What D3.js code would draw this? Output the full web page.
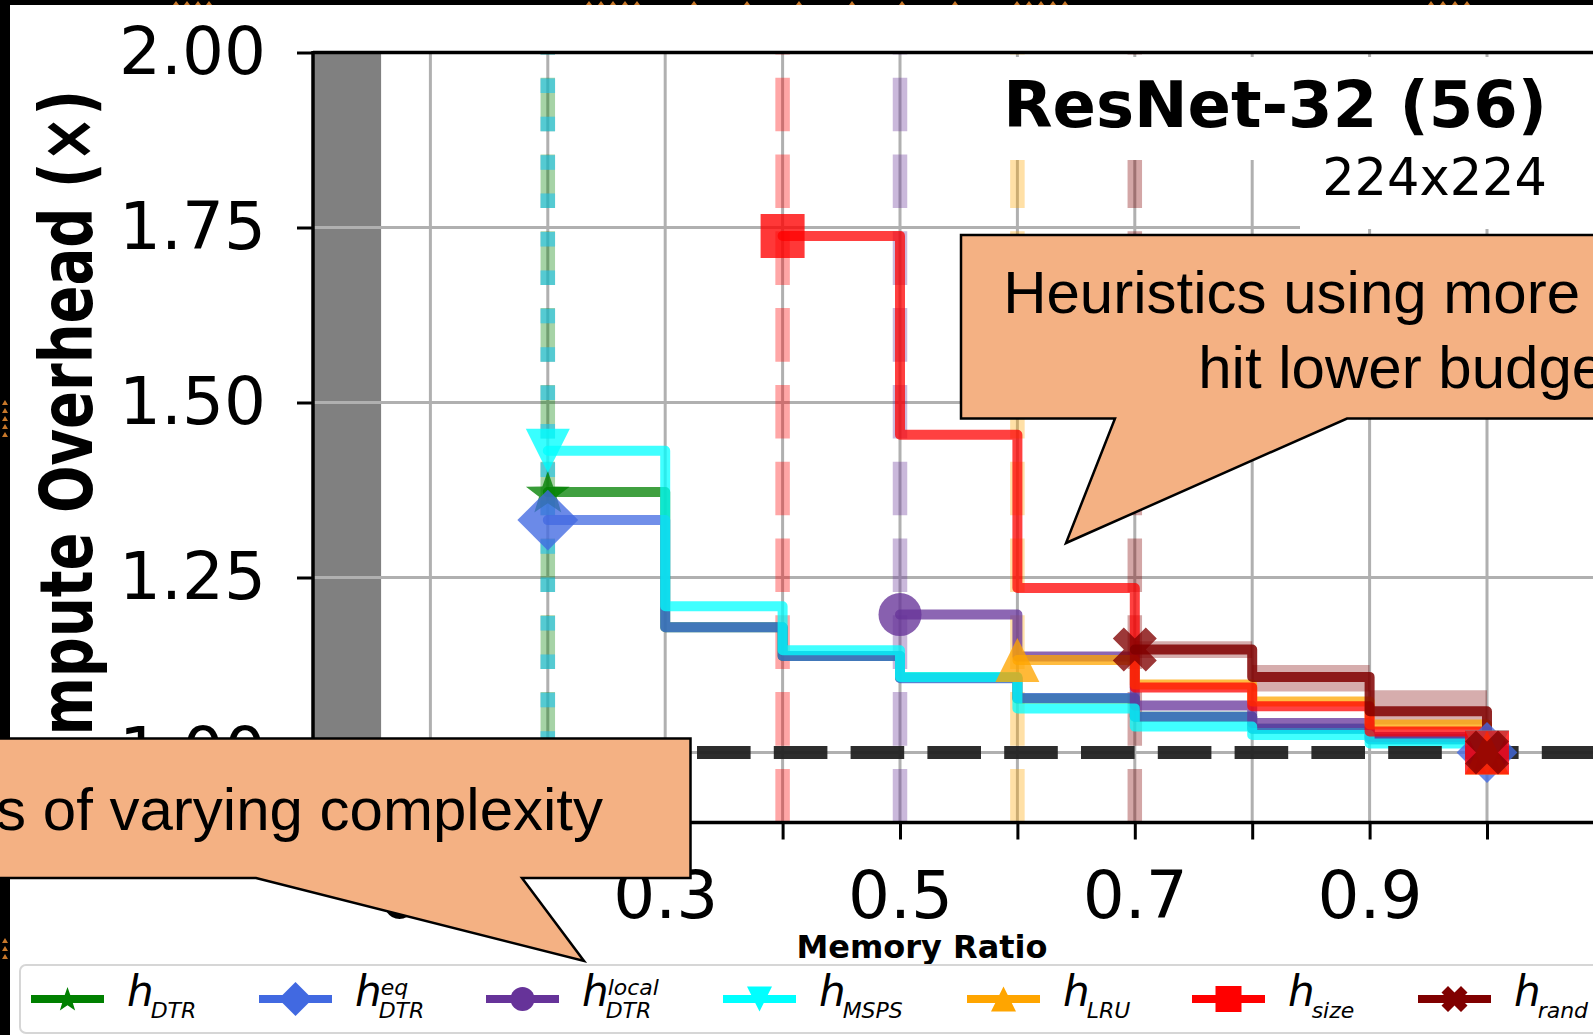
<!DOCTYPE html>
<html>
<head>
<meta charset="utf-8">
<script src="https://cdn.jsdelivr.net/npm/d3@7"></script>
<style>
  html, body { margin: 0; padding: 0; background: #fff; overflow: hidden; }
  svg { display: block; }
</style>
</head>
<body>
<svg id="chart" width="1593" height="1035"></svg>
<script>
// ---- data -------------------------------------------------------------
// memory budgets (fraction of peak memory) at which each heuristic was run
const budgets = [0.2, 0.3, 0.4, 0.5, 0.6, 0.7, 0.8, 0.9, 1.0];

// compute overhead per heuristic, from its lowest feasible budget up to 1.0
const hDTR      = [1.372, 1.179, 1.138, 1.107, 1.077, 1.051, 1.034, 1.019, 1.000];
const hDTReq    = [1.332, 1.179, 1.138, 1.106, 1.078, 1.051, 1.034, 1.019, 1.000];
const hDTRlocal = [1.197, 1.137, 1.067, 1.042, 1.022, 1.000];
const hMSPS     = [1.431, 1.209, 1.146, 1.108, 1.063, 1.037, 1.025, 1.013, 1.000];
const hLRU      = [1.132, 1.097, 1.073, 1.040, 1.000];
const hSize     = [1.738, 1.454, 1.235, 1.093, 1.066, 1.030, 1.000];
const hRand     = [1.147, 1.108, 1.059, 1.000];
const hRandLow  = [1.135, 1.087, 1.040, 1.000];
const hRandHigh = [1.159, 1.125, 1.089, 1.000];

const seriesNames = ["DTR", "DTR", "DTR", "MSPS", "LRU", "size", "rand"];
const seriesSups  = ["", "eq", "local", "", "", "", ""];

const xTickValues = [0.1, 0.2, 0.3, 0.4, 0.5, 0.6, 0.7, 0.8, 0.9, 1.0];
const xTickLabels = ["0.1", "", "0.3", "", "0.5", "", "0.7", "", "0.9", ""];
const yTickValues = [1.00, 1.25, 1.50, 1.75, 2.00];
const infeasibleBudget = 0.058;

// ---- styling ----------------------------------------------------------
const colors  = ["#008000", "#4169e1", "#663399", "#00ffff", "#ffa500", "#ff0000", "#800000"];
const markers = ["star", "diamond", "circle", "triDown", "triUp", "square", "x"];
const vStyles = ["dashed", "dotted", "dashed", "dotted", "dashed", "dashed", "dashed"];
const peach = "#F4B183";

const svg = d3.select("#chart");
const W = 1593, H = 1035;

const x = d3.scaleLinear().domain([0, 1.1]).range([313, 313 + 1.1 * 1174]);
const y = d3.scaleLinear().domain([0.9, 2.0]).range([822.5, 52.5]);

svg.append("rect").attr("width", W).attr("height", H).attr("fill", "#fff");

// marker shapes centred on the origin; s = half extent
function markerPath(kind, s) {
  if (kind === "square") return `M${-s},${-s}H${s}V${s}H${-s}Z`;
  if (kind === "diamond") { const d = s * Math.SQRT2; return `M0,${-d}L${d},0L0,${d}L${-d},0Z`; }
  if (kind === "circle") return `M${-s},0A${s},${s} 0 1,0 ${s},0A${s},${s} 0 1,0 ${-s},0Z`;
  if (kind === "triUp") return `M0,${-s}L${s},${s}L${-s},${s}Z`;
  if (kind === "triDown") return `M0,${s}L${s},${-s}L${-s},${-s}Z`;
  if (kind === "x") {
    const k = s / 2;
    const pts = [[-1,-2],[0,-1],[1,-2],[2,-1],[1,0],[2,1],[1,2],[0,1],[-1,2],[-2,1],[-1,0],[-2,-1]];
    return "M" + pts.map(p => `${p[0]*k},${p[1]*k}`).join("L") + "Z";
  }
  if (kind === "star") {
    const pts = [];
    for (let i = 0; i < 10; i++) {
      const r = i % 2 === 0 ? s : s * 0.4;
      const a = -Math.PI / 2 + i * Math.PI / 5;
      pts.push([r * Math.cos(a), r * Math.sin(a) + s * 0.08]);
    }
    return "M" + pts.map(p => `${p[0].toFixed(2)},${p[1].toFixed(2)}`).join("L") + "Z";
  }
}

const valueSets = [hDTR, hDTReq, hDTRlocal, hMSPS, hLRU, hSize, hRand];
const series = valueSets.map((vals, i) => ({
  color: colors[i],
  marker: markers[i],
  vstyle: vStyles[i],
  points: budgets.slice(budgets.length - vals.length).map((b, j) => [b, vals[j]])
}));

// ---- background band and grid ----------------------------------------
svg.append("rect")
  .attr("x", x(0)).attr("y", y(2.0))
  .attr("width", x(infeasibleBudget) - x(0)).attr("height", y(0.9) - y(2.0))
  .attr("fill", "#808080");

const grid = svg.append("g").attr("stroke", "#b0b0b0").attr("stroke-width", 3);
xTickValues.forEach(v => grid.append("line")
  .attr("x1", x(v)).attr("x2", x(v)).attr("y1", y(0.9)).attr("y2", y(2.0)));
yTickValues.filter(v => v < 2).forEach(v => grid.append("line")
  .attr("x1", x(0)).attr("x2", W + 20).attr("y1", y(v)).attr("y2", y(v)));

// ---- vertical markers at each heuristic's lowest feasible budget ------
const vl = svg.append("g");
series.forEach(s => {
  const bx = x(s.points[0][0]);
  vl.append("path")
    .attr("d", `M${bx},${y(0.9)}V${y(2.0)}`)
    .attr("stroke", s.color).attr("stroke-opacity", 0.35)
    .attr("stroke-width", 14.5)
    .attr("stroke-dasharray", s.vstyle === "dashed" ? "53.6 23.2" : "14.5 23.9")
    .attr("fill", "none");
});

// ---- rand spread band --------------------------------------------------
const randX = budgets.slice(budgets.length - hRand.length);
const band = d3.area()
  .x((d, i) => x(randX[i]))
  .y0((d, i) => y(hRandLow[i]))
  .y1((d, i) => y(hRandHigh[i]))
  .curve(d3.curveStepAfter);
svg.append("path").attr("d", band(hRand)).attr("fill", "#800000").attr("fill-opacity", 0.32);

// ---- step lines ------------------------------------------------------
const stepLine = d3.line().x(d => x(d[0])).y(d => y(d[1])).curve(d3.curveStepAfter);
series.forEach((s, i) => {
  svg.append("path")
    .attr("d", stepLine(s.points))
    .attr("fill", "none")
    .attr("stroke", s.color)
    .attr("stroke-opacity", i === 6 ? 0.85 : 0.75)
    .attr("stroke-width", 10)
    .attr("stroke-linejoin", "round")
    .attr("stroke-linecap", "round");
});

// ---- baseline (no overhead) -----------------------------------------
svg.append("path")
  .attr("d", `M${x(0)},${y(1)}H${W + 20}`)
  .attr("stroke", "#222").attr("stroke-opacity", 0.95)
  .attr("stroke-width", 13).attr("stroke-dasharray", "53.6 23.2").attr("fill", "none");

// ---- markers at first and last budget ---------------------------------
const markerSize = { star: 23, diamond: 21.5, circle: 21.5, triDown: 22, triUp: 22, square: 22, x: 22 };
series.forEach(s => {
  [s.points[0], s.points[s.points.length - 1]].forEach(p => {
    svg.append("path")
      .attr("d", markerPath(s.marker, markerSize[s.marker]))
      .attr("transform", `translate(${x(p[0])},${y(p[1])})`)
      .attr("fill", s.color).attr("fill-opacity", 0.78);
  });
});

// ---- axes ---------------------------------------------------------------
const font = "'DejaVu Sans', sans-serif";
const yAxis = d3.axisLeft(y).tickValues(yTickValues).tickFormat(d3.format(".2f"))
  .tickSize(16).tickPadding(31);
const gy = svg.append("g").attr("transform", `translate(${x(0)},0)`).call(yAxis);
const xAxis = d3.axisBottom(x).tickValues(xTickValues)
  .tickFormat((d, i) => xTickLabels[i]).tickSize(17).tickPadding(32);
const gx = svg.append("g").attr("transform", `translate(0,${y(0.9)})`).call(xAxis);
[gx, gy].forEach(g => {
  g.select(".domain").remove();
  g.selectAll(".tick line").attr("stroke", "#000").attr("stroke-width", 3);
  g.selectAll(".tick text").attr("font-family", font).attr("font-size", 66).attr("fill", "#000");
});

// spines
const sp = svg.append("g").attr("stroke", "#000").attr("stroke-width", 3.5);
sp.append("line").attr("x1", x(0)).attr("x2", x(0)).attr("y1", y(2.0) - 1.5).attr("y2", y(0.9) + 1.5);
sp.append("line").attr("x1", x(0)).attr("x2", W + 20).attr("y1", y(2.0)).attr("y2", y(2.0));
sp.append("line").attr("x1", x(0)).attr("x2", W + 20).attr("y1", y(0.9)).attr("y2", y(0.9));

// axis titles (the y title is drawn wide, as in the stretched figure)
svg.append("text")
  .attr("transform", "translate(92,90) scale(1.3,1) rotate(-90)")
  .attr("text-anchor", "end")
  .attr("font-family", font).attr("font-weight", "bold").attr("font-size", 56)
  .text("Compute Overhead (×)");
svg.append("text")
  .attr("x", 922).attr("y", 958).attr("text-anchor", "middle")
  .attr("font-family", font).attr("font-weight", "bold").attr("font-size", 32)
  .text("Memory Ratio");

// ---- model title ----------------------------------------------------
svg.append("rect").attr("x", 990).attr("y", 57).attr("width", 700).attr("height", 103).attr("fill", "#fff");
svg.append("rect").attr("x", 1300).attr("y", 160).attr("width", 400).attr("height", 69).attr("fill", "#fff");
svg.append("text").attr("x", 1547).attr("y", 127).attr("text-anchor", "end")
  .attr("font-family", font).attr("font-weight", "bold").attr("font-size", 64)
  .text("ResNet-32 (56)");
svg.append("text").attr("x", 1547).attr("y", 195).attr("text-anchor", "end")
  .attr("font-family", font).attr("font-size", 51)
  .text("224x224");

// ---- legend -------------------------------------------------------------
const legendLineX = [31, 259, 486, 723, 967, 1192, 1418];
const legendMarker = { star: 13, diamond: 12, circle: 12, triDown: 12.5, triUp: 12.5, square: 13, x: 13 };
const lg = svg.append("g");
lg.append("rect").attr("x", 20).attr("y", 965).attr("width", 1640).attr("height", 68)
  .attr("rx", 6).attr("fill", "#fff").attr("fill-opacity", 0.9)
  .attr("stroke", "#d6d6d6").attr("stroke-width", 2);
series.forEach((s, i) => {
  const lx = legendLineX[i], ly = 999;
  lg.append("line").attr("x1", lx).attr("x2", lx + 73).attr("y1", ly).attr("y2", ly)
    .attr("stroke", s.color).attr("stroke-width", 8);
  lg.append("path").attr("d", markerPath(s.marker, legendMarker[s.marker]))
    .attr("transform", `translate(${lx + 36.5},${ly})`).attr("fill", s.color);
  const tx = lx + 96;
  const h = lg.append("text").attr("x", tx).attr("y", 1006)
    .attr("font-family", font).attr("font-style", "italic").attr("font-size", 42).text("h");
  const hw = h.node().getComputedTextLength();
  lg.append("text").attr("x", tx + hw - 3).attr("y", 1018)
    .attr("font-family", font).attr("font-style", "italic").attr("font-size", 22).text(seriesNames[i]);
  if (seriesSups[i]) {
    lg.append("text").attr("x", tx + hw - 1).attr("y", 995)
      .attr("font-family", font).attr("font-style", "italic").attr("font-size", 22).text(seriesSups[i]);
  }
});

// ---- frame ----------------------------------------------------------------
svg.append("rect").attr("x", 0).attr("y", 0).attr("width", W).attr("height", 5).attr("fill", "#000");
svg.append("rect").attr("x", 0).attr("y", 0).attr("width", 10).attr("height", H).attr("fill", "#000");
const frameDotsTop = [176, 187, 198, 209, 589, 601, 613, 625, 637, 694, 747, 799, 852, 902, 955,
                      1017, 1029, 1041, 1053, 1065, 1431, 1443, 1455, 1467];
const frameDotsLeft = [400, 408, 416, 424, 432, 938, 946, 954];
const fr = svg.append("g").attr("fill", "#c8782a");
frameDotsTop.forEach(v => fr.append("path").attr("d", `M${v},1L${v + 3},5L${v - 3},5Z`));
frameDotsLeft.forEach(v => fr.append("path").attr("d", `M5,${v}L8,${v + 5}L2,${v + 5}Z`));

// ---- callouts -----------------------------------------------------------
const calloutFont = "'Liberation Sans', Arial, sans-serif";
svg.append("path")
  .attr("d", "M961,235H1700V418.5H1347L1066,543L1115,418.5H961Z")
  .attr("fill", peach).attr("stroke", "#000").attr("stroke-width", 2.5);
svg.append("text").attr("x", 1425).attr("y", 313).attr("text-anchor", "middle")
  .attr("font-family", calloutFont).attr("font-size", 60).text("Heuristics using more metadata");
svg.append("text").attr("x", 1425).attr("y", 388).attr("text-anchor", "middle")
  .attr("font-family", calloutFont).attr("font-size", 60).text("hit lower budgets");

svg.append("path")
  .attr("d", "M-20,738.5H690.5V878H522L584,961L256,878H-20Z")
  .attr("fill", peach).attr("stroke", "#000").attr("stroke-width", 2.5);
svg.append("text").attr("x", 603).attr("y", 830).attr("text-anchor", "end")
  .attr("font-family", calloutFont).attr("font-size", 60).text("Heuristics of varying complexity");
</script>
</body>
</html>
